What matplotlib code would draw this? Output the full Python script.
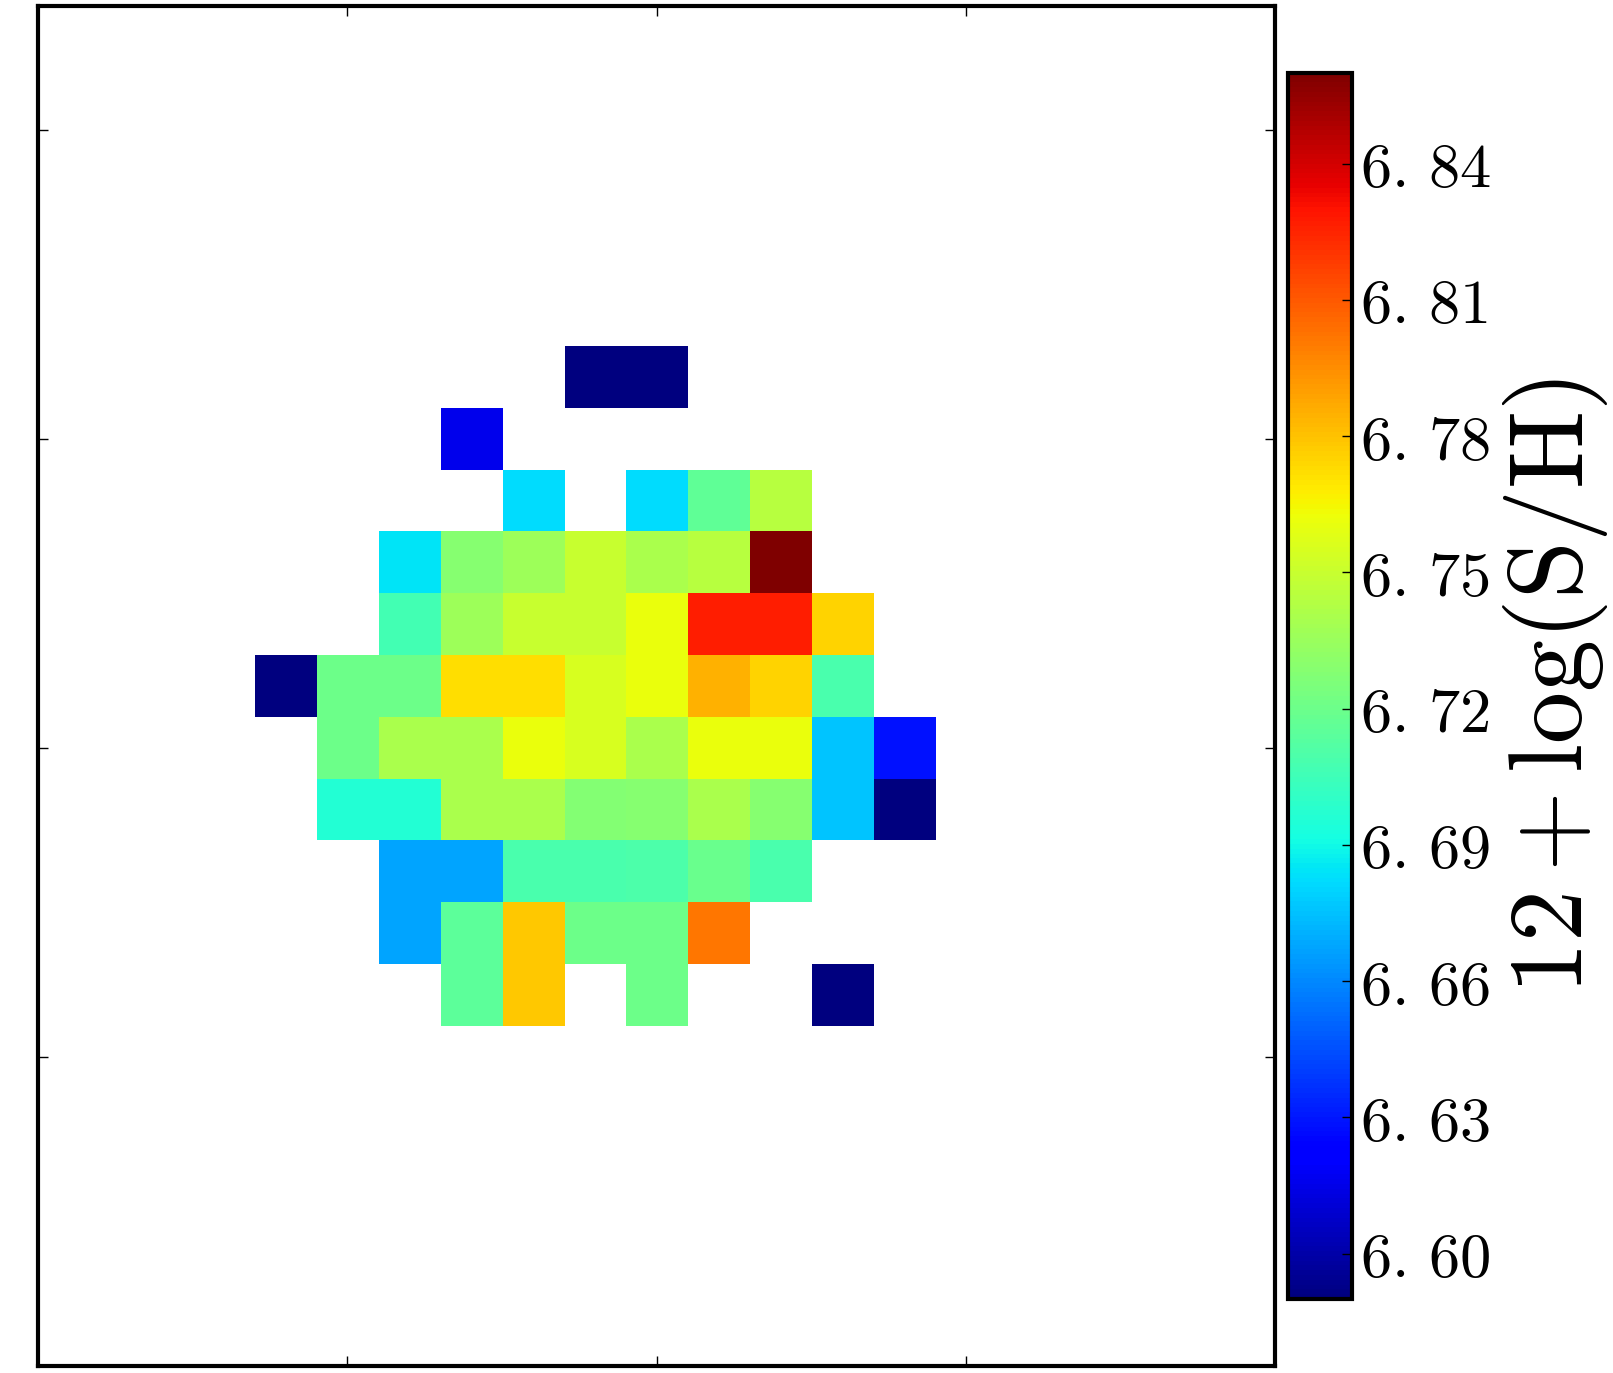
import numpy as np
import matplotlib
matplotlib.use("Agg")
import matplotlib.pyplot as plt
from matplotlib.ticker import FuncFormatter

plt.rcParams["mathtext.fontset"] = "cm"

nan = np.nan
# map values, rows from top (y=16) down to y=6, columns x=4..14
row_y = [16, 15, 14, 13, 12, 11, 10, 9, 8, 7, 6]
col_x = [4, 5, 6, 7, 8, 9, 10, 11, 12, 13, 14]
sh_map = [
    [nan, nan, nan, nan, nan, 6.59, 6.59, nan, nan, nan, nan],
    [nan, nan, nan, 6.616, nan, nan, nan, nan, nan, nan, nan],
    [nan, nan, nan, nan, 6.682, nan, 6.682, 6.716, 6.745, nan, nan],
    [nan, nan, 6.684, 6.729, 6.736, 6.75, 6.74, 6.745, 6.86, nan, nan],
    [nan, nan, 6.707, 6.736, 6.75, 6.75, 6.761, 6.827, 6.827, 6.775, nan],
    [6.59, 6.72, 6.72, 6.772, 6.772, 6.755, 6.761, 6.785, 6.775, 6.709, nan],
    [nan, 6.72, 6.74, 6.74, 6.761, 6.755, 6.74, 6.761, 6.761, 6.676, 6.628],
    [nan, 6.696, 6.696, 6.74, 6.74, 6.728, 6.729, 6.74, 6.729, 6.676, 6.59],
    [nan, nan, 6.668, 6.668, 6.709, 6.709, 6.71, 6.719, 6.709, nan, nan],
    [nan, nan, 6.668, 6.715, 6.778, 6.72, 6.72, 6.801, nan, nan, nan],
    [nan, nan, nan, 6.715, 6.778, nan, 6.72, nan, nan, 6.59, nan],
]
vmin, vmax = 6.59, 6.86
cbar_ticks = [6.60, 6.63, 6.66, 6.69, 6.72, 6.75, 6.78, 6.81, 6.84]
xticks = [5, 10, 15]
yticks = [5, 10, 15, 20]

fig = plt.figure(figsize=(16.13, 13.73), dpi=100)
ax = fig.add_axes([0.0236, 0.0051, 0.7669, 0.9905])
cax = fig.add_axes([0.7985, 0.0539, 0.0397, 0.893])

data = np.array(sh_map, dtype=float)
im = ax.imshow(data, cmap="jet", vmin=vmin, vmax=vmax, interpolation="nearest",
               extent=[col_x[0] - 0.5, col_x[-1] + 0.5, row_y[-1] - 0.5, row_y[0] + 0.5],
               aspect="auto")
ax.set_xlim(0, 20)
ax.set_ylim(0, 22)
ax.set_xticks(xticks)
ax.set_yticks(yticks)
ax.tick_params(direction="in", top=True, right=True, labelbottom=False,
               labelleft=False, length=7, width=1)
for s in ax.spines.values():
    s.set_linewidth(3)

cb = fig.colorbar(im, cax=cax, ticks=cbar_ticks)
cb.outline.set_linewidth(3)
cax.yaxis.set_major_formatter(FuncFormatter(
    lambda v, p: r"$%s.\,%s$" % tuple(("%.2f" % v).split("."))))
cax.tick_params(direction="in", length=7, width=1, labelsize=45, pad=6)
cb.set_label(r"$12+\log(\mathrm{S/H})$", fontsize=75, labelpad=7)

fig.savefig("out.png", dpi=100)
